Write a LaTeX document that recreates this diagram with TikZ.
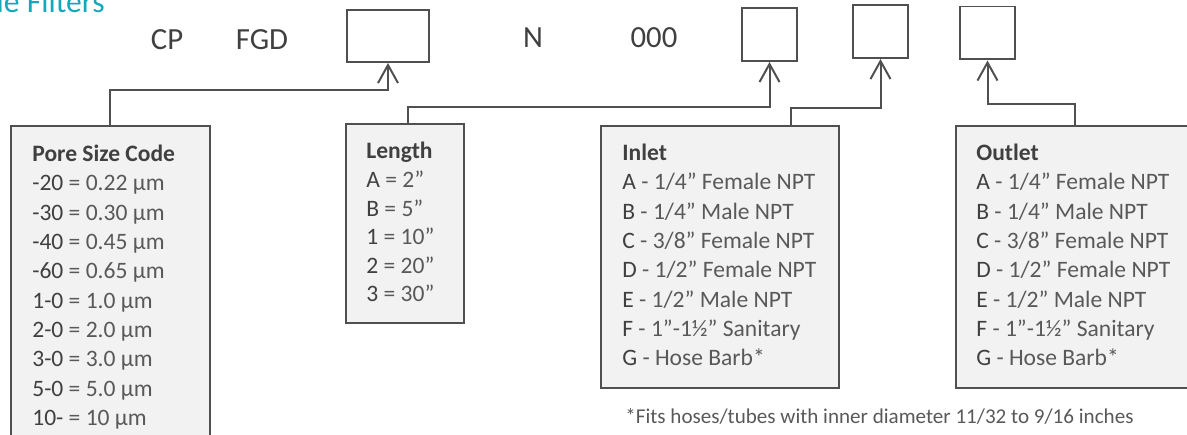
\documentclass[tikz,border=0pt]{standalone}
\usepackage{fontspec}
\setmainfont{Carlito}
\usetikzlibrary{arrows.meta}

\definecolor{r80g80b80}{RGB}{80,80,80}
\definecolor{r64g64b64}{RGB}{64,64,64}
\definecolor{r89g89b89}{RGB}{89,89,89}
\definecolor{r242g242b242}{RGB}{242,242,242}
\definecolor{r22g168b186}{RGB}{22,168,186}

\newcommand{\portlist}{A/{1/4” Female NPT},B/{1/4” Male NPT},C/{3/8” Female NPT},D/{1/2” Female NPT},E/{1/2” Male NPT},F/{1”-1½” Sanitary},G/{Hose Barb*}}

\begin{document}
\begin{tikzpicture}[x=0.02cm,y=-0.02cm,
    codebox/.style={draw=r80g80b80, line width=0.04cm, fill=white, inner sep=0pt, minimum width=1.1cm, minimum height=1.06cm},
    panel/.style={draw=r80g80b80, line width=0.04cm, fill=r242g242b242, inner sep=0pt, anchor=north west},
    link/.style={draw=r80g80b80, line width=0.04cm, -{Straight Barb[length=0.36cm,width=0.4cm]}},
    part/.style={font=\fontsize{17.5}{21}\selectfont, text=r64g64b64, inner sep=0pt},
    head/.style={font=\fontsize{13.4}{16}\selectfont\bfseries, text=r64g64b64, inner sep=0pt, anchor=base west},
    item/.style={font=\fontsize{13.4}{16}\selectfont, text=r89g89b89, inner sep=0pt, anchor=base west}]
\useasboundingbox (0,0) rectangle (1187,435);
\clip (0,0) rectangle (1187,435);

% Drawing title
\node[anchor=base east, inner sep=0pt, font=\fontsize{18}{22}\selectfont, text=r22g168b186] (title) at (105,13) {le Filters};

% Drawing part number
\node[part] (cp) at (167,40) {CP};
\node[part] (fgd) at (262,40) {FGD};
\node[part] (n) at (533,38) {N};
\node[part] (zeros) at (654,38) {000};
\node[codebox, minimum width=1.64cm, minimum height=1.04cm] (code1) at (388,36) {};
\node[codebox] (code2) at (769.5,34.5) {};
\node[codebox] (code3) at (880.5,31.5) {};
\node[codebox] (code4) at (987.5,33) {};

% Drawing pore size panel
\node[panel, minimum width=3.98cm, minimum height=6.4cm] (pore) at (10,125) {};
\node[head] (pore-head) at (32,162) {Pore Size Code};
\foreach \code/\val [count=\i] in {-20/0.22,-30/0.30,-40/0.45,-60/0.65,1-0/1.0,2-0/2.0,3-0/3.0,5-0/5.0,10-/10}
  \node[item] (pore-\i) at (32,{191+(\i-1)*29.3}) {\textcolor{r64g64b64}{\code} = \val~µm};

% Drawing length panel
\node[panel, minimum width=2.36cm, minimum height=3.98cm] (len) at (345,123) {};
\node[head] (len-head) at (366,159) {Length};
\foreach \code/\val [count=\i] in {A/2,B/5,1/10,2/20,3/30}
  \node[item] (len-\i) at (366,{188+(\i-1)*28.4}) {\textcolor{r64g64b64}{\code} = \val”};

% Drawing inlet panel
\node[panel, minimum width=4.76cm, minimum height=5.24cm] (inlet) at (600,125) {};
\node[head] (inlet-head) at (622,161) {Inlet};
\foreach \code/\val [count=\i] in \portlist
  \node[item] (inlet-\i) at (622,{190+(\i-1)*29.3}) {\textcolor{r64g64b64}{\code} - \val};

% Drawing outlet panel
\node[panel, minimum width=5cm, minimum height=5.24cm] (outlet) at (955,125) {};
\node[head] (outlet-head) at (976,161) {Outlet};
\foreach \code/\val [count=\i] in \portlist
  \node[item] (outlet-\i) at (976,{190+(\i-1)*29.3}) {\textcolor{r64g64b64}{\code} - \val};

% Drawing footnote
\node[item, font=\fontsize{12}{14}\selectfont] (note) at (625,424) {*Fits hoses/tubes with inner diameter 11/32 to 9/16 inches};

% Drawing links
\draw[link] (pore.north) -- ++(0,-35) -| (code1.south);
\draw[link] ([xshift=0.06cm]len.north) -- ++(0,-16) -| (code2.south);
\draw[link] ([xshift=1.42cm]inlet.north) -- ++(0,-17) -| (code3.south);
\draw[link] ([xshift=-0.12cm]outlet.north) -- ++(0,-21) -| (code4.south);
\end{tikzpicture}
\end{document}
